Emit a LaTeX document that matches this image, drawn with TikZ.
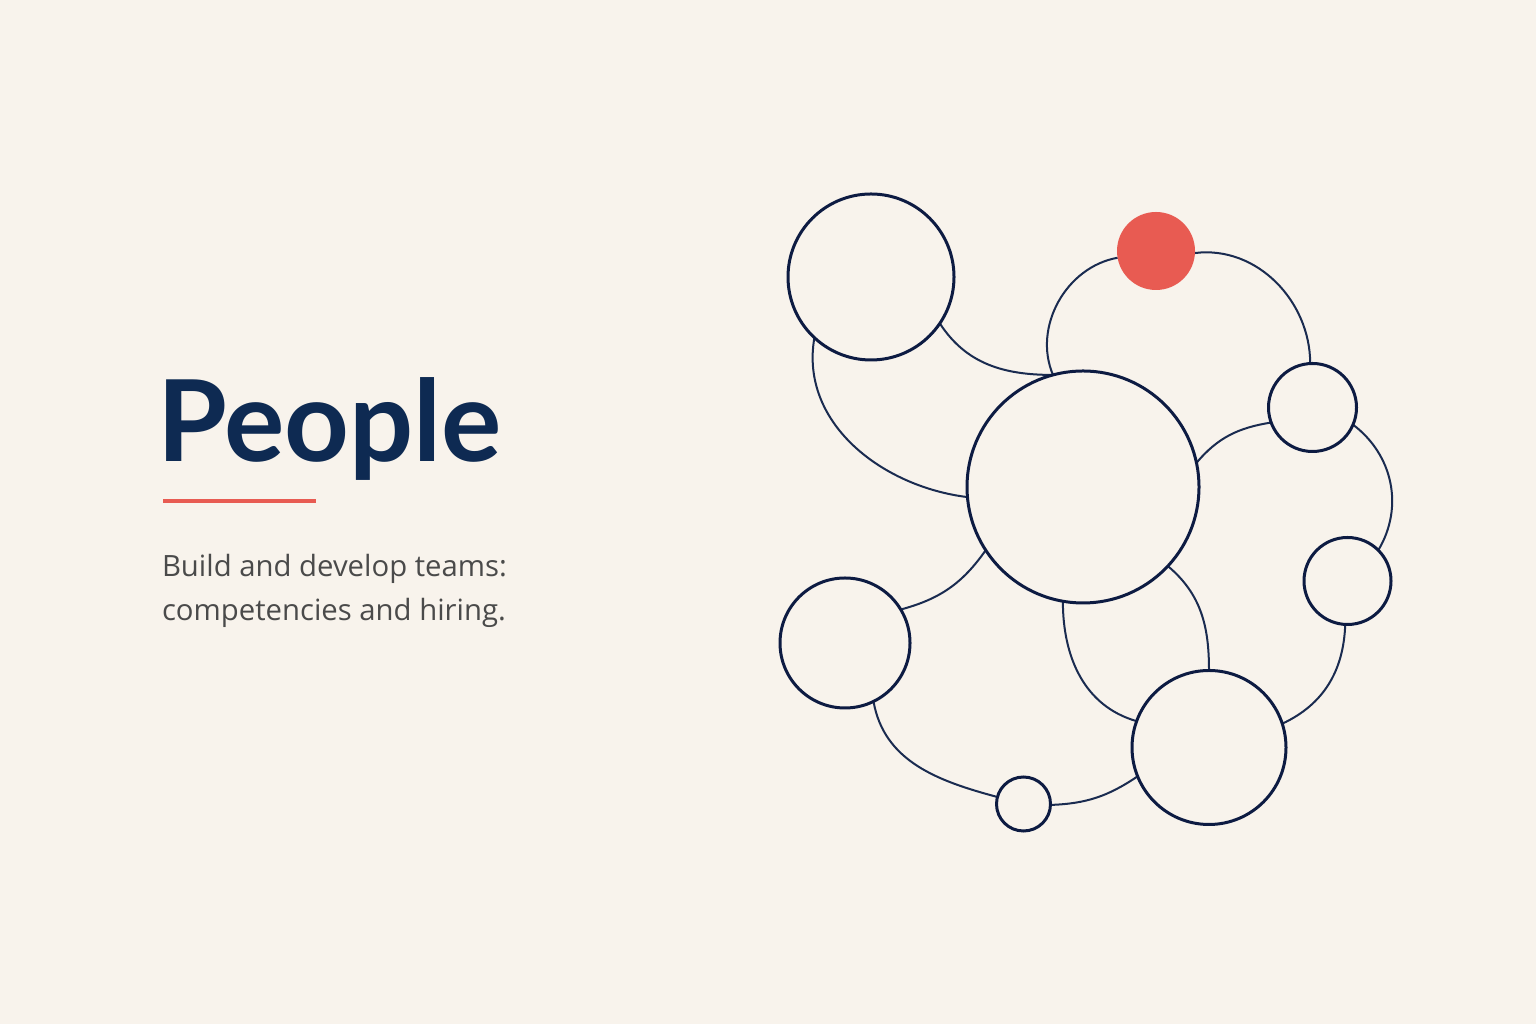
\documentclass[tikz,border=0pt]{standalone}
\usepackage{fontspec}
\setmainfont{Lato}
\newfontfamily\subfont{Open Sans}
\definecolor{bgc}{HTML}{F8F3EC}
\definecolor{titlec}{HTML}{0E2A52}
\definecolor{ringc}{HTML}{0D1B42}
\definecolor{linkc}{HTML}{1A2B50}
\definecolor{accent}{HTML}{E85B52}
\definecolor{subc}{HTML}{4A4A4A}
\pgfdeclarelayer{bgfill}
\pgfdeclarelayer{background}
\pgfsetlayers{bgfill,background,main}
\begin{document}
\begin{tikzpicture}[x=1pt,y=1pt,
  ring/.style={circle, draw=ringc, line width=3pt, inner sep=0pt, outer sep=0pt},
  dot/.style={circle, fill=accent, inner sep=0pt, outer sep=0pt},
  link/.style={draw=linkc, line width=2pt},
  txt/.style={anchor=base west, inner sep=0pt, outer sep=0pt}]
\begin{pgfonlayer}{bgfill}
\fill[bgc] (0,0) rectangle (1536,1024);
\end{pgfonlayer}
\useasboundingbox (0,0) rectangle (1536,1024);
% text
\node[txt, font=\fontsize{113}{113}\selectfont\bfseries, text=titlec] (title) at (157,562) {People};
\coordinate (ulA) at (163,523);
\coordinate (ulB) at (316,523);
\draw[accent, line width=4.5pt] (ulA) -- (ulB);
\node[txt, font=\subfont\fontsize{29.3}{44}\selectfont, text=subc] (sub1) at (162,447) {Build and develop teams:};
\node[txt, font=\subfont\fontsize{29.3}{44}\selectfont, text=subc] (sub2) at (162,403) {competencies and hiring.};
% circles
\node[ring, minimum size=166pt] (A) at (871,747) {};
\node[ring, minimum size=232pt] (big) at (1083,537) {};
\node[dot, minimum size=78pt] (red) at (1156,773) {};
\node[ring, minimum size=88pt] (r1) at (1312.5,616.5) {};
\node[ring, minimum size=87pt] (r2) at (1347.5,443) {};
\node[ring, minimum size=130pt] (bl) at (845,381) {};
\node[ring, minimum size=54pt] (sm) at (1023.5,220) {};
\node[ring, minimum size=154pt] (br) at (1209,276.5) {};
% connectors
\begin{pgfonlayer}{background}
\draw[link] (A.-34) to[out=-57,in=180] (big.105);
\draw[link] (A.-133) to[out=-100,in=173] (big.185);
\draw[link] (red.190) to[out=190,in=113] (big.105);
\draw[link] (red.357) to[out=7,in=90] (r1.93);
\draw[link] (big.12) to[out=50,in=189] (r1.200);
\draw[link] (r1.-23) to[out=-37,in=59] (r2.45);
\draw[link] (r2.-93) to[out=-92,in=25] (br.18);
\draw[link] (big.213) to[out=-125,in=15] (bl.31);
\draw[link] (big.-100) to[out=-90,in=164] (br.160);
\draw[link] (big.-43) to[out=-40,in=90] (br.90);
\draw[link] (bl.-64) to[out=-80,in=165] (sm.165);
\draw[link] (sm.-2) to[out=2,in=214] (br.202);
\end{pgfonlayer}
\end{tikzpicture}
\end{document}
